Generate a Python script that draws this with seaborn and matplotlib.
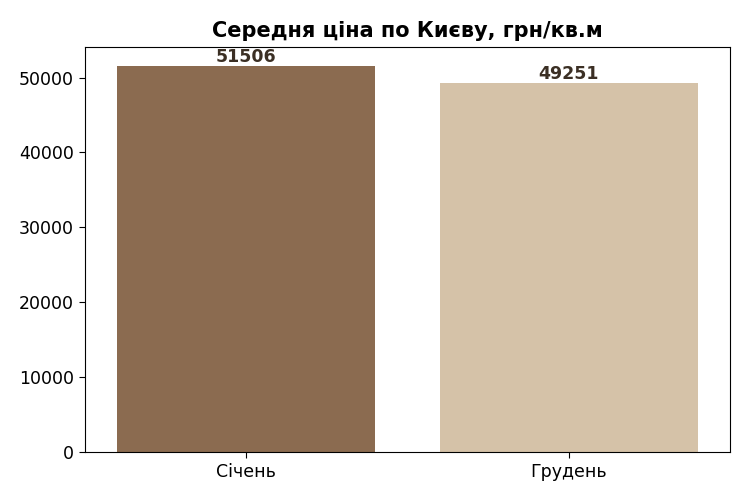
import matplotlib
matplotlib.use("Agg")
import matplotlib.pyplot as plt
import seaborn as sns
import pandas as pd

# дані
months = ["Січень", "Грудень"]
prices = [51506, 49251]
bar_colors = ["#8b6b50", "#d5c2a8"]

df = pd.DataFrame({"Місяць": months, "Ціна": prices})

fig, ax = plt.subplots(figsize=(7.5, 5), dpi=100)
sns.barplot(data=df, x="Місяць", y="Ціна", hue="Місяць", palette=bar_colors,
            legend=False, saturation=1, ax=ax)

for i, v in enumerate(prices):
    ax.text(i, v, str(v), ha="center", va="bottom", fontsize=12.5,
            fontweight="bold", color="#3b2f24")

ax.set_title("Середня ціна по Києву, грн/кв.м", fontsize=15, fontweight="bold", pad=7)
ax.set_xlabel("")
ax.set_ylabel("")
ax.tick_params(labelsize=12.5, length=4.5)

plt.subplots_adjust(left=0.113, right=0.973, top=0.906, bottom=0.096)
plt.savefig("out.png", dpi=100)
plt.close()
